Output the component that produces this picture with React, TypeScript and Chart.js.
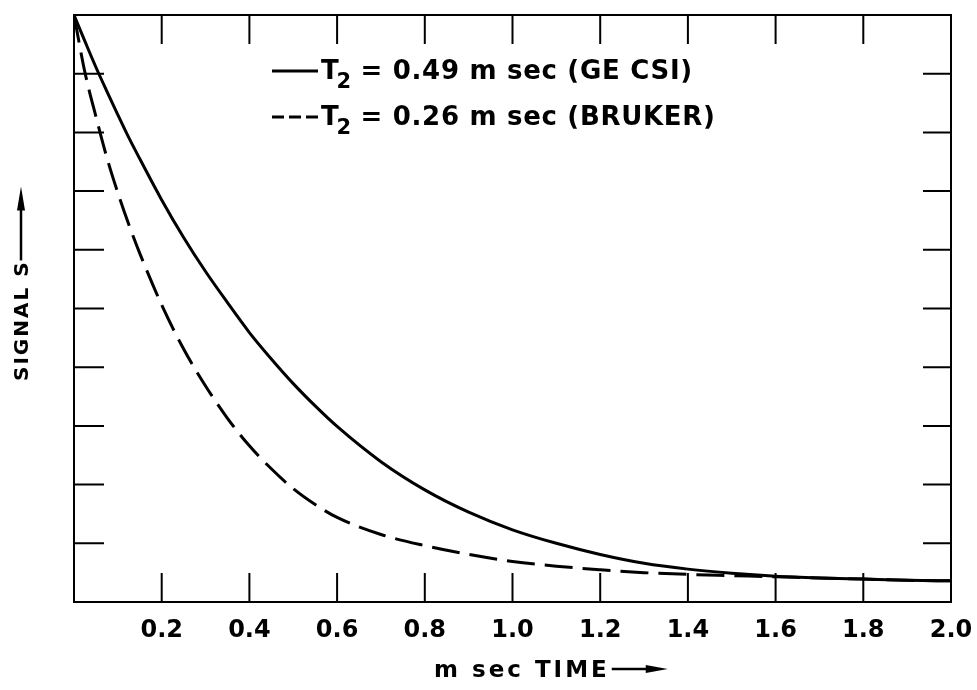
import React, { useEffect, useRef } from "react";
import { Chart, registerables } from "chart.js";

Chart.register(...registerables);

// time axis (m sec)
const timeMs = [
  0, 0.025, 0.05, 0.075, 0.1, 0.125, 0.15, 0.2, 0.25, 0.3, 0.35, 0.4, 0.45, 0.5, 0.55,
  0.6, 0.7, 0.8, 0.9, 1.0, 1.1, 1.2, 1.3, 1.4, 1.5, 1.6, 1.7, 1.8, 1.9, 2.0,
];
// signal (axis 0..10 divisions)
const geCsiSignal = [
  10.0, 9.55, 9.11, 8.7, 8.3, 7.91, 7.55, 6.85, 6.21, 5.63, 5.1, 4.59, 4.14, 3.72, 3.34,
  2.99, 2.39, 1.91, 1.53, 1.23, 1.0, 0.81, 0.66, 0.56, 0.49, 0.44, 0.41, 0.39, 0.37, 0.36,
];
const brukerSignal = [
  10.0, 9.02, 8.27, 7.57, 6.97, 6.43, 5.94, 5.06, 4.31, 3.68, 3.13, 2.66, 2.27, 1.93, 1.66,
  1.44, 1.15, 0.96, 0.81, 0.69, 0.61, 0.55, 0.5, 0.47, 0.45, 0.43, 0.41, 0.39, 0.37, 0.36,
];
const seriesSub = ["2", "2"];
const seriesRest = [" = 0.49 m sec (GE CSI)", " = 0.26 m sec (BRUKER)"];
const xTickStep = 0.2;
const xTitle = "m sec TIME";
const yTitle = "SIGNAL S";

const FONT = '"DejaVu Sans"';

const decor = {
  id: "decor",
  afterDraw(chart: any) {
    const { ctx, chartArea: a, scales } = chart;
    const xs = scales.x;
    const ys = scales.y;
    ctx.save();
    ctx.strokeStyle = "#000";
    ctx.fillStyle = "#000";
    ctx.lineWidth = 2;
    ctx.strokeRect(a.left, a.top, a.right - a.left, a.bottom - a.top);
    ctx.beginPath();
    xs.ticks.forEach((t: any) => {
      if (t.value <= xs.min + 1e-9 || t.value >= xs.max - 1e-9) return;
      const px = xs.getPixelForValue(t.value);
      ctx.moveTo(px, a.bottom);
      ctx.lineTo(px, a.bottom - 29);
      ctx.moveTo(px, a.top);
      ctx.lineTo(px, a.top + 29);
    });
    ys.ticks.forEach((t: any) => {
      if (t.value <= ys.min + 1e-9 || t.value >= ys.max - 1e-9) return;
      const py = ys.getPixelForValue(t.value);
      ctx.moveTo(a.left, py);
      ctx.lineTo(a.left + 30, py);
      ctx.moveTo(a.right, py);
      ctx.lineTo(a.right - 28, py);
    });
    ctx.stroke();

    // legend
    const rows = [79, 125];
    rows.forEach((base, i) => {
      const ly = base - 8;
      ctx.lineWidth = 3;
      ctx.beginPath();
      if (i === 1) ctx.setLineDash([12, 5]);
      else ctx.setLineDash([]);
      ctx.moveTo(272, ly);
      ctx.lineTo(318, ly);
      ctx.stroke();
      ctx.setLineDash([]);
      ctx.textBaseline = "alphabetic";
      ctx.textAlign = "left";
      (ctx as any).letterSpacing = "0.7px";
      ctx.font = `bold 26px ${FONT}`;
      let x = 321;
      ctx.fillText("T", x, base);
      x += ctx.measureText("T").width - 3;
      ctx.font = `bold 21px ${FONT}`;
      ctx.fillText(seriesSub[i], x, base + 9);
      x += ctx.measureText(seriesSub[i]).width - 1;
      ctx.font = `bold 26px ${FONT}`;
      ctx.fillText(seriesRest[i], x, base);
    });

    // x title
    (ctx as any).letterSpacing = "3px";
    ctx.font = `bold 23px ${FONT}`;
    ctx.textAlign = "left";
    ctx.fillText(xTitle, 434, 677);
    const xw = ctx.measureText(xTitle).width;
    const ax0 = 434 + xw + 2;
    ctx.lineWidth = 2.5;
    ctx.beginPath();
    ctx.moveTo(ax0, 669);
    ctx.lineTo(ax0 + 38, 669);
    ctx.stroke();
    ctx.beginPath();
    ctx.moveTo(ax0 + 34, 665);
    ctx.lineTo(ax0 + 56, 669);
    ctx.lineTo(ax0 + 34, 673);
    ctx.closePath();
    ctx.fill();

    // y title
    ctx.save();
    ctx.translate(28, 381);
    ctx.rotate(-Math.PI / 2);
    (ctx as any).letterSpacing = "2px";
    ctx.font = `bold 20px ${FONT}`;
    ctx.fillText(yTitle, 0, 0);
    const yw = ctx.measureText(yTitle).width;
    ctx.beginPath();
    ctx.moveTo(yw, -7);
    ctx.lineTo(yw + 56, -7);
    ctx.stroke();
    ctx.beginPath();
    ctx.moveTo(yw + 50, -11);
    ctx.lineTo(yw + 74, -7);
    ctx.lineTo(yw + 50, -3);
    ctx.closePath();
    ctx.fill();
    ctx.restore();

    ctx.restore();
  },
};

export default function App() {
  const ref = useRef<HTMLCanvasElement | null>(null);
  useEffect(() => {
    if (!ref.current) return;
    const chart = new Chart(ref.current, {
      type: "line",
      data: {
        datasets: [
          {
            label: "T2" + seriesRest[0],
            data: timeMs.map((t, i) => ({ x: t, y: geCsiSignal[i] })),
            borderColor: "#000",
            borderWidth: 3,
            pointRadius: 0,
            cubicInterpolationMode: "monotone",
            fill: false,
          },
          {
            label: "T2" + seriesRest[1],
            data: timeMs.map((t, i) => ({ x: t, y: brukerSignal[i] })),
            borderColor: "#000",
            borderWidth: 3,
            borderDash: [28, 10],
            pointRadius: 0,
            cubicInterpolationMode: "monotone",
            fill: false,
          },
        ],
      },
      options: {
        animation: false,
        responsive: false,
        layout: { padding: { left: 74, top: 15, right: 26, bottom: 0 } },
        plugins: { legend: { display: false }, tooltip: { enabled: false } },
        scales: {
          x: {
            type: "linear",
            min: 0,
            max: 2,
            grid: { display: false, drawTicks: false },
            border: { display: false },
            afterFit: (s: any) => {
              s.height = 88;
              s.paddingLeft = 0;
              s.paddingRight = 0;
            },
            ticks: {
              stepSize: xTickStep,
              padding: 14,
              color: "#000",
              font: { family: "DejaVu Sans", size: 24, weight: "bold" },
              maxRotation: 0,
              autoSkip: false,
              callback: (v: any) => (Math.abs(Number(v)) < 1e-9 ? "" : Number(v).toFixed(1)),
            },
          },
          y: {
            type: "linear",
            min: 0,
            max: 10,
            display: false,
            ticks: { stepSize: 1 },
          },
        },
      },
      plugins: [decor],
    });
    return () => chart.destroy();
  }, []);
  return (
    <div style={{ position: "fixed", left: 0, top: 0, width: 977, height: 690, background: "#fff" }}>
      <canvas ref={ref} width={977} height={690} style={{ display: "block" }} />
    </div>
  );
}
